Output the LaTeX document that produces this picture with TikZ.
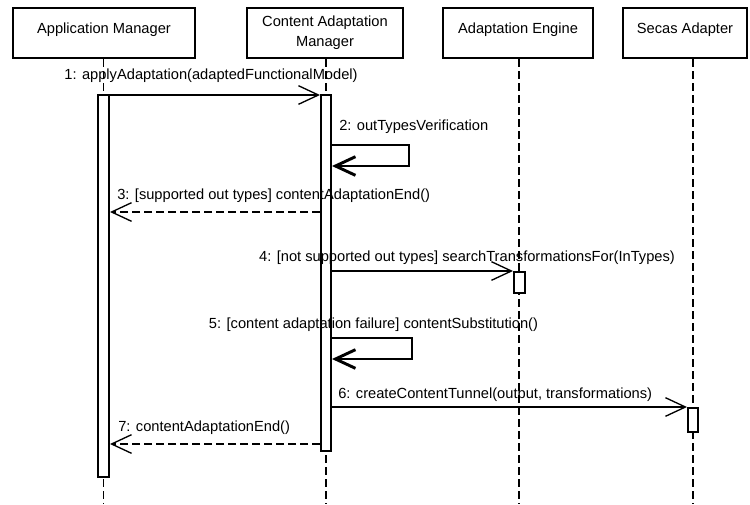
\documentclass[tikz,border=0pt]{standalone}
\usepackage{fontspec}
\setmainfont{Liberation Sans}
\usetikzlibrary{arrows.meta}
\begin{document}
\begin{tikzpicture}[x=0.75pt,y=-0.75pt,
  lbl/.style={inner sep=0pt, font=\fontsize{11}{13}\selectfont},
  actor/.style={draw, line width=1.5pt, minimum height=37.5pt, inner sep=0pt,
    align=center, font=\fontsize{11}{15}\selectfont},
  oneline/.style={actor, text depth=7.5pt},
  lifeline/.style={line width=1.1pt, dash pattern=on 6pt off 3pt},
  bar/.style={draw, fill=white, line width=1.5pt, inner sep=0pt},
  msg/.style={line width=1pt, -{Straight Barb[length=15pt,width=14pt]}},
  reply/.style={msg, dash pattern=on 6pt off 3pt},
  selfmsg/.style={line width=2.2pt, -{Straight Barb[length=15pt,width=14pt]}}
]
\useasboundingbox (0,0) rectangle (750,504);

% participants
\node[oneline, minimum width=136.5pt] (am)  at (104,33) {Application Manager};
\node[actor,   minimum width=117pt]   (cam) at (325,33) {Content Adaptation\\Manager};
\node[oneline, minimum width=112.5pt] (ae)  at (518,33) {Adaptation Engine};
\node[oneline, minimum width=93pt]    (sa)  at (685,33) {Secas Adapter};

% lifeline ends
\coordinate (amEnd)  at (103.5,504);
\coordinate (camEnd) at (326,504);
\coordinate (aeEnd)  at (519,504);
\coordinate (saEnd)  at (693,504);

\draw[lifeline] (am.south -| amEnd) -- (amEnd);
\draw[lifeline] (cam.south -| camEnd) -- (camEnd);
\draw[lifeline] (ae.south -| aeEnd) -- (aeEnd);
\draw[lifeline] (sa.south -| saEnd) -- (saEnd);

% activation bars
\node[bar, minimum width=8.25pt, minimum height=286.5pt] (amb)  at (103.5,286) {};
\node[bar, minimum width=7.5pt,  minimum height=267pt]   (camb) at (326,273) {};
\node[bar, minimum width=8.25pt, minimum height=15.75pt] (aeb)  at (519.5,282.5) {};
\node[bar, minimum width=7.5pt,  minimum height=18pt]    (sab)  at (693,420) {};

% 1
\draw[msg] (amb.east |- 0,95) -- (camb.west |- 0,95);
\node[lbl, anchor=base] (l1) at (211,79) {1: applyAdaptation(adaptedFunctionalModel)};

% 2
\coordinate (s2a) at (409,145);
\coordinate (s2b) at (409,166);
\draw[selfmsg] (camb.east |- s2a) -- (s2a) -- (s2b) -- (camb.east |- s2b);
\node[lbl, anchor=base west] (l2) at (339,130) {2: outTypesVerification};

% 3
\draw[reply] (camb.west |- 0,212) -- (amb.east |- 0,212);
\node[lbl, anchor=base west] (l3) at (117,199) {3: [supported out types] contentAdaptationEnd()};

% 4
\draw[msg] (camb.east |- aeb.north) -- (aeb.north west);
\node[lbl, anchor=base] (l4) at (467,261) {4: [not supported out types] searchTransformationsFor(InTypes)};

% 5
\coordinate (s5a) at (412,338);
\coordinate (s5b) at (412,359);
\draw[selfmsg] (camb.east |- s5a) -- (s5a) -- (s5b) -- (camb.east |- s5b);
\node[lbl, anchor=base] (l5) at (373.5,328) {5: [content adaptation failure] contentSubstitution()};

% 6
\draw[msg] (camb.east |- sab.north) -- (sab.north west);
\node[lbl, anchor=base west] (l6) at (338,398) {6: createContentTunnel(output, transformations)};

% 7
\draw[reply] (camb.west |- 0,444) -- (amb.east |- 0,444);
\node[lbl, anchor=base west] (l7) at (118,431) {7: contentAdaptationEnd()};
\end{tikzpicture}
\end{document}
